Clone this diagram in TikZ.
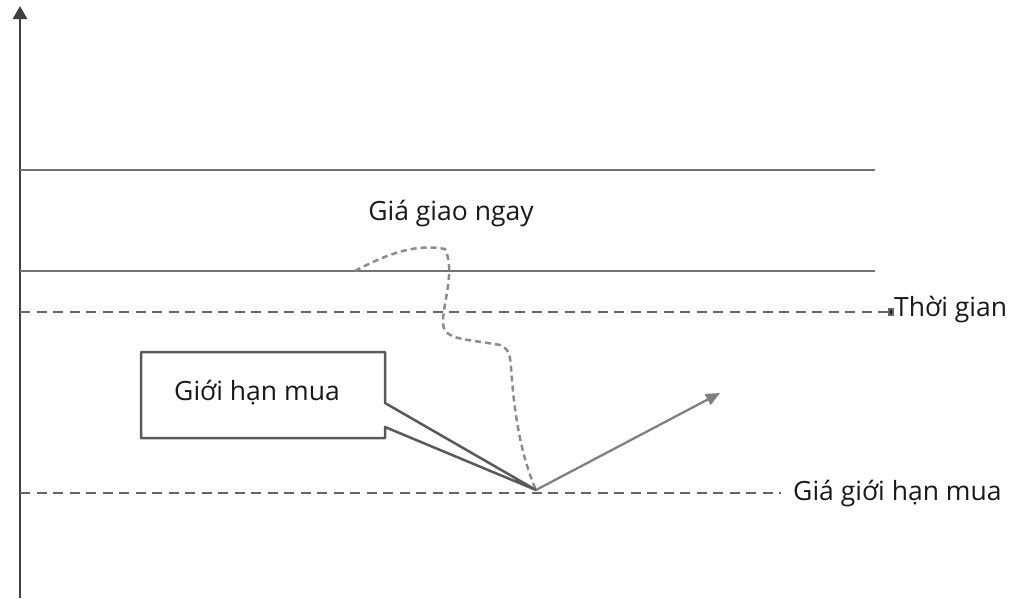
\documentclass[tikz,border=0pt]{standalone}
\usepackage{fontspec}
\setmainfont{Open Sans}
\usetikzlibrary{arrows.meta}
\begin{document}
\begin{tikzpicture}[x=1pt,y=-1pt,
  lbl/.style={font=\fontsize{26.5}{30}\selectfont, text=black!90, inner sep=0pt},
  solidline/.style={draw=black!55, line width=2.3pt},
  dashline/.style={draw=black!60, line width=2.3pt, dash pattern=on 10pt off 6.5pt},
  curvy/.style={draw=black!45, line width=2.5pt, dash pattern=on 6pt off 4pt},
  callout/.style={draw=black!65, line width=2.5pt, fill=white, line join=round},
  arrowline/.style={draw=black!50, line width=2.3pt, -{Triangle[length=14pt,width=12pt]}}]
\useasboundingbox (0,0) rectangle (1015,598);
% axis
\coordinate (axB) at (20,598);
\coordinate (axT) at (20,6);
\draw[draw=black!75, line width=2.8pt, -{Triangle[length=13pt,width=14pt]}] (axB) -- (axT);
% horizontal lines
\coordinate (s1a) at (20,170); \coordinate (s1b) at (875,170);
\coordinate (s2a) at (20,271); \coordinate (s2b) at (875,271);
\draw[solidline] (s1a) -- (s1b);
\draw[solidline] (s2a) -- (s2b);
\node[lbl, anchor=west] (tg) at (894,310) {Thời gian};
\coordinate (tga) at (20,312);
\draw[dashline, -{Square[length=6pt,width=8pt,fill=black!90]}] (tga) -- (tg.west |- tga);
\node[lbl, anchor=west] (gghm) at (793,494) {Giá giới hạn mua};
\coordinate (gha) at (20,493);
\draw[dashline] (gha) -- ([xshift=-12pt]gghm.west |- gha);
\node[lbl] (ggn) at (451,214) {Giá giao ngay};
% curvy spot price path
\coordinate (p0) at (355,271);
\coordinate (pk) at (536,490);
\draw[curvy] (p0) .. controls (385,255) and (415,243) .. (445,249)
  .. controls (455,270) and (444,300) .. (443,320)
  .. controls (442,340) and (460,338) .. (500,345)
  .. controls (512,350) and (510,360) .. (512,380)
  .. controls (516,430) and (525,465) .. (pk);
% callout
\draw[callout] (141,352) -- (385,352) -- (385,403) -- (pk) -- (385,427) -- (385,438) -- (141,438) -- cycle;
\node[lbl] (gh) at (257,393) {Giới hạn mua};
% arrow
\coordinate (ae) at (720,393);
\draw[arrowline] (pk) -- (ae);
\end{tikzpicture}
\end{document}
